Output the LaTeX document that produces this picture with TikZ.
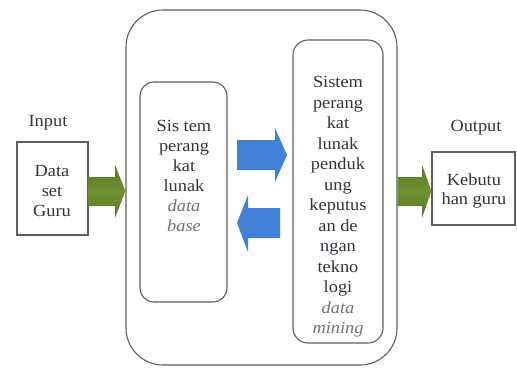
\documentclass[tikz,border=0pt]{standalone}
\usepackage{fontspec}
\setmainfont{Liberation Serif}[FakeStretch=1.08]
\definecolor{linegray}{RGB}{95,95,95}
\definecolor{txt}{RGB}{58,48,62}
\definecolor{itxt}{RGB}{115,115,115}
\definecolor{arrowblue}{RGB}{66,128,216}
\definecolor{arrowgreen}{RGB}{112,146,48}
\definecolor{greendark}{RGB}{88,118,34}
\tikzset{
  box/.style={draw=linegray, line width=1.1pt, fill=white, inner sep=0pt},
  lbl/.style={text=txt, align=center, inner sep=0pt, font=\fontsize{17}{20}\selectfont},
  blockblue/.style={fill=arrowblue},
  blockgreen/.style={top color=greendark, bottom color=greendark, middle color=arrowgreen}
}
\begin{document}
\begin{tikzpicture}[x=1pt,y=-1pt]
\useasboundingbox (0,0) rectangle (517,368);
% outer container
\node[box, rounded corners=37pt, minimum width=271pt, minimum height=355pt] (outer) at (261.5,187.5) {};
% inner boxes
\node[box, rounded corners=14pt, minimum width=87pt, minimum height=220pt] (dbbox) at (183.5,192) {};
\node[box, rounded corners=15pt, minimum width=90pt, minimum height=303pt] (spkbox) at (338,191.5) {};
% input / output boxes
\node[box, minimum width=71pt, minimum height=93pt] (inbox) at (52.5,188.5) {};
\node[box, minimum width=83pt, minimum height=73pt] (outbox) at (473.5,188.5) {};
% texts
\node[lbl] (intitle) at (48,123) {Input};
\node[lbl] (outtitle) at (476,128) {Output};
\node[lbl] (intext) at (52,191) {Data\\set\\Guru};
\node[lbl, font=\fontsize{17}{18.5}\selectfont] (outtext) at (474,191) {Kebutu\\han guru};
\node[lbl] (dbtext) at (184,176) {Sis tem\\perang\\kat\\lunak\\\textcolor{itxt}{\itshape data}\\\textcolor{itxt}{\itshape base}};
\node[lbl, font=\fontsize{17}{20.5}\selectfont] (spktext) at (338,207) {Sistem\\perang\\kat\\lunak\\penduk\\ung\\keputus\\an de\\ngan\\tekno\\logi\\\textcolor{itxt}{\itshape data}\\\textcolor{itxt}{\itshape mining}};
% blue block arrows between the inner boxes
\fill[blockblue] (237,140) -- (275,140) -- (275,128) -- (287,155) -- (275,182) -- (275,170) -- (237,170) -- cycle;
\fill[blockblue] (280,208) -- (248,208) -- (248,195) -- (237,223) -- (248,252) -- (248,238) -- (280,238) -- cycle;
% green block arrows
\shade[blockgreen] (inbox.east |- 0,177) -- (115,177) -- (115,165) -- (outer.west |- 0,191) -- (115,218) -- (115,206) -- (inbox.east |- 0,206) -- cycle;
\shade[blockgreen] (outer.east |- 0,177) -- (422,177) -- (422,165) -- (outbox.west |- 0,191) -- (422,218) -- (422,206) -- (outer.east |- 0,206) -- cycle;
\end{tikzpicture}
\end{document}
